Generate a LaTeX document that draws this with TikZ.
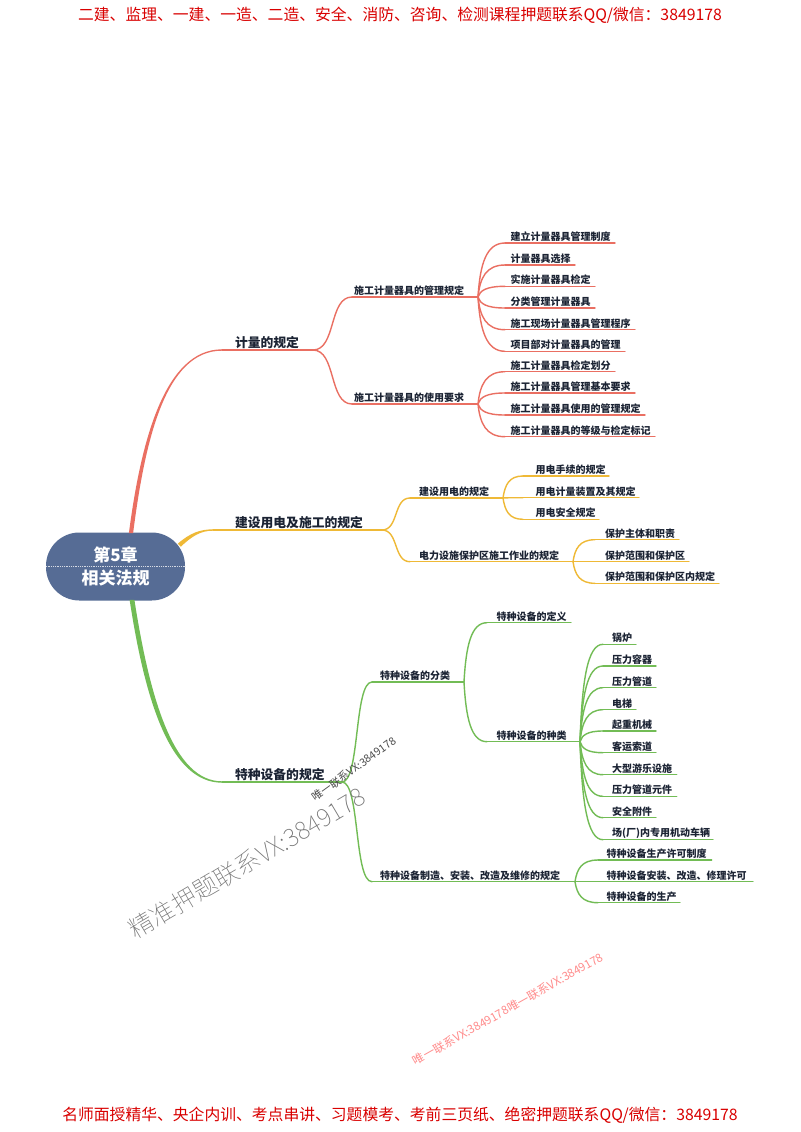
\documentclass[tikz,border=0pt]{standalone}
\usepackage{fontspec}
\setmainfont{Noto Sans CJK SC}
\newfontfamily\wmthin{Noto Sans CJK SC Thin}
\usetikzlibrary{calc}
\definecolor{cred}{HTML}{EA6F62}
\definecolor{cyel}{HTML}{EFB936}
\definecolor{cgrn}{HTML}{72BC55}
\definecolor{cink}{HTML}{1B2333}
\definecolor{croot}{HTML}{566C95}
\tikzset{
  mmnode/.style={anchor=south west,inner xsep=0pt,inner ysep=1.2pt,outer sep=0pt,align=left,text=cink,font=\bfseries\fontsize{7.5}{9}\selectfont},
  mmmain/.style={mmnode,font=\bfseries\fontsize{9.6}{11}\selectfont},
  mmline/.style={line width=1.05pt,line cap=round},
  wmark/.style={inner sep=0pt,anchor=center},
  banner/.style={inner sep=0pt,text=red!85!black,font=\fontsize{11.85}{14}\selectfont}
}
% [style] name, colour, x start, y, x end, x text, text
\newcommand\mmleaf[8][mmnode]{%
  \pgfmathsetlengthmacro\mmw{(#6-#4)*0.75pt}%
  \pgfmathsetlengthmacro\mmp{(#7-#4)*0.75pt}%
  \node[#1,text width=\mmw] (#2) at (#4,#5) {\hspace*{\mmp}#8};
  \draw[mmline,#3] (#2.south west) -- (#2.south east);
}
\newcommand\mmfan[3]{%
  \draw[mmline,#3] let \p1=(#1.south east),\p2=(#2.south west) in
    (\p1) .. controls ({\x1+1.5pt},{\y1+0.6*(\y2-\y1)}) and ({\x1+0.3*(\x2-\x1)},\y2) .. (\p2);
}
\newcommand\mmess[3]{%
  \draw[mmline,#3] let \p1=(#1.south east),\p2=(#2.south west) in
    (\p1) .. controls ({\x1+0.6*(\x2-\x1)},\y1) and ({\x1+0.4*(\x2-\x1)},\y2) .. (\p2);
}
\begin{document}
\begin{tikzpicture}[x=0.75pt,y=-0.75pt]
\useasboundingbox (0,0) rectangle (800,1132);
\fill[white] (0,0) rectangle (800,1132);

\node[banner] (topbanner) at (400,15) {二建、监理、一建、一造、二造、安全、消防、咨询、检测课程押题联系QQ/微信：3849178};
\node[banner] (botbanner) at (400,1115) {名师面授精华、央企内训、考点串讲、习题模考、考前三页纸、绝密押题联系QQ/微信：3849178};

% root
\node[fill=croot,rounded corners=25pt,minimum width=104.25pt,minimum height=51pt,inner sep=0pt,text=white,align=center,font=\bfseries\fontsize{12.75}{17}\selectfont] (root) at (115.5,566.5) {第5章\\相关法规};
\draw[white!75!croot,densely dotted,line width=0.35pt] (root.west) -- (root.east);

% level 1
\mmleaf[mmmain]{m1}{cred}{222}{350}{313}{235}{计量的规定}
\mmleaf[mmmain]{m2}{cyel}{213}{530}{382}{235}{建设用电及施工的规定}
\mmleaf[mmmain]{m3}{cgrn}{222}{782}{342}{235}{特种设备的规定}

\coordinate (s1) at ($(root.north)+(15.5,1)$);
\coordinate (s2) at ($(root.north east)+(-6,13)$);
\coordinate (s3) at ($(root.south)+(16.5,-1)$);
\fill[cred] ($(s1)+(-2.1,0)$) .. controls (141,440) and (165,349.4) .. ($(m1.south west)+(0,-0.7)$) -- ($(m1.south west)+(0,0.7)$) .. controls (165.5,350.6) and (145,440) .. ($(s1)+(2.1,0)$) -- cycle;
\fill[cyel] ($(s2)+(-1.5,-1.5)$) .. controls (190,533) and (200,529.4) .. ($(m2.south west)+(0,-0.7)$) -- ($(m2.south west)+(0,0.7)$) .. controls (201,530.6) and (192,536) .. ($(s2)+(1.5,1.5)$) -- cycle;
\fill[cgrn] ($(s3)+(-2.4,0)$) .. controls (145,700) and (170,782.7) .. ($(m3.south west)+(0,0.7)$) -- ($(m3.south west)+(0,-0.7)$) .. controls (174,781.3) and (150,700) .. ($(s3)+(2.4,0)$) -- cycle;

% red
\mmleaf{a1}{cred}{352}{297}{478}{354}{施工计量器具的管理规定}
\mmleaf{a2}{cred}{352}{404}{478}{354}{施工计量器具的使用要求}
\mmess{m1}{a1}{cred}
\mmess{m1}{a2}{cred}
\mmleaf{a11}{cred}{505}{243}{615}{510.7}{建立计量器具管理制度}
\mmleaf{a12}{cred}{505}{265}{575}{510.7}{计量器具选择}
\mmleaf{a13}{cred}{505}{286.3}{595}{510.7}{实施计量器具检定}
\mmleaf{a14}{cred}{505}{308}{595}{510.7}{分类管理计量器具}
\mmleaf{a15}{cred}{505}{329.7}{635}{510.7}{施工现场计量器具管理程序}
\mmleaf{a16}{cred}{505}{351.3}{625}{510.7}{项目部对计量器具的管理}
\foreach \k in {a11,a12,a13,a14,a15,a16}{\mmfan{a1}{\k}{cred}}
\mmleaf{a21}{cred}{505}{371.7}{615}{510.7}{施工计量器具检定划分}
\mmleaf{a22}{cred}{505}{393}{635}{510.7}{施工计量器具管理基本要求}
\mmleaf{a23}{cred}{505}{415}{645}{510.7}{施工计量器具使用的管理规定}
\mmleaf{a24}{cred}{505}{436.7}{655}{510.7}{施工计量器具的等级与检定标记}
\foreach \k in {a21,a22,a23,a24}{\mmfan{a2}{\k}{cred}}

% yellow
\mmleaf{b1}{cyel}{410}{498}{503}{419}{建设用电的规定}
\mmleaf{b2}{cyel}{410}{561.7}{573}{419}{电力设施保护区施工作业的规定}
\mmess{m2}{b1}{cyel}
\mmess{m2}{b2}{cyel}
\mmleaf{b11}{cyel}{523}{476}{609}{535.7}{用电手续的规定}
\mmleaf{b12}{cyel}{523}{497.7}{639}{535.7}{用电计量装置及其规定}
\mmleaf{b13}{cyel}{523}{519.3}{599}{535.7}{用电安全规定}
\foreach \k in {b11,b12,b13}{\mmfan{b1}{\k}{cyel}}
\mmleaf{b21}{cyel}{595}{539.7}{679}{605}{保护主体和职责}
\mmleaf{b22}{cyel}{595}{561.7}{689}{605}{保护范围和保护区}
\mmleaf{b23}{cyel}{595}{583.3}{719}{605}{保护范围和保护区内规定}
\foreach \k in {b21,b22,b23}{\mmfan{b2}{\k}{cyel}}

% green
\mmleaf{c1}{cgrn}{372}{682}{464}{380}{特种设备的分类}
\mmleaf{c2}{cgrn}{372}{881.7}{575}{380}{特种设备制造、安装、改造及维修的规定}
\mmess{m3}{c1}{cgrn}
\mmess{m3}{c2}{cgrn}
\mmleaf{c11}{cgrn}{487}{622.7}{571}{496.7}{特种设备的定义}
\mmleaf{c12}{cgrn}{487}{741.7}{580}{496.7}{特种设备的种类}
\mmfan{c1}{c11}{cgrn}
\mmfan{c1}{c12}{cgrn}
\mmleaf{d1}{cgrn}{603}{644.3}{636}{612}{锅炉}
\mmleaf{d2}{cgrn}{603}{666}{656}{612}{压力容器}
\mmleaf{d3}{cgrn}{603}{687.7}{656}{612}{压力管道}
\mmleaf{d4}{cgrn}{603}{709.7}{636}{612}{电梯}
\mmleaf{d5}{cgrn}{603}{731}{656}{612}{起重机械}
\mmleaf{d6}{cgrn}{603}{752.7}{656}{612}{客运索道}
\mmleaf{d7}{cgrn}{603}{774.7}{676.7}{612}{大型游乐设施}
\mmleaf{d8}{cgrn}{603}{796.3}{676.7}{612}{压力管道元件}
\mmleaf{d9}{cgrn}{603}{817.7}{656}{612}{安全附件}
\mmleaf{d10}{cgrn}{603}{839.7}{713}{612}{场(厂)内专用机动车辆}
\foreach \k in {d1,d2,d3,d4,d5,d6,d7,d8,d9,d10}{\mmfan{c12}{\k}{cgrn}}
\mmleaf{c21}{cgrn}{598}{860}{711.7}{606.7}{特种设备生产许可制度}
\mmleaf{c22}{cgrn}{598}{881.7}{753}{606.7}{特种设备安装、改造、修理许可}
\mmleaf{c23}{cgrn}{598}{902.7}{680}{606.7}{特种设备的生产}
\foreach \k in {c21,c22,c23}{\mmfan{c2}{\k}{cgrn}}

% watermarks
\node[wmark,rotate=36,text=black!70,font=\fontsize{8.1}{9}\selectfont] (wm1) at (354,769) {唯一联系VX:3849178};
\node[wmark,rotate=30.6,text=black!55,font=\wmthin\fontsize{18.5}{20}\selectfont] (wm2) at (247,863) {精准押题联系VX:3849178};
\node[wmark,rotate=29.3,text=red!45,font=\fontsize{8.7}{9}\selectfont] (wm3) at (508,1009) {唯一联系VX:3849178唯一联系VX:3849178};
\end{tikzpicture}
\end{document}
